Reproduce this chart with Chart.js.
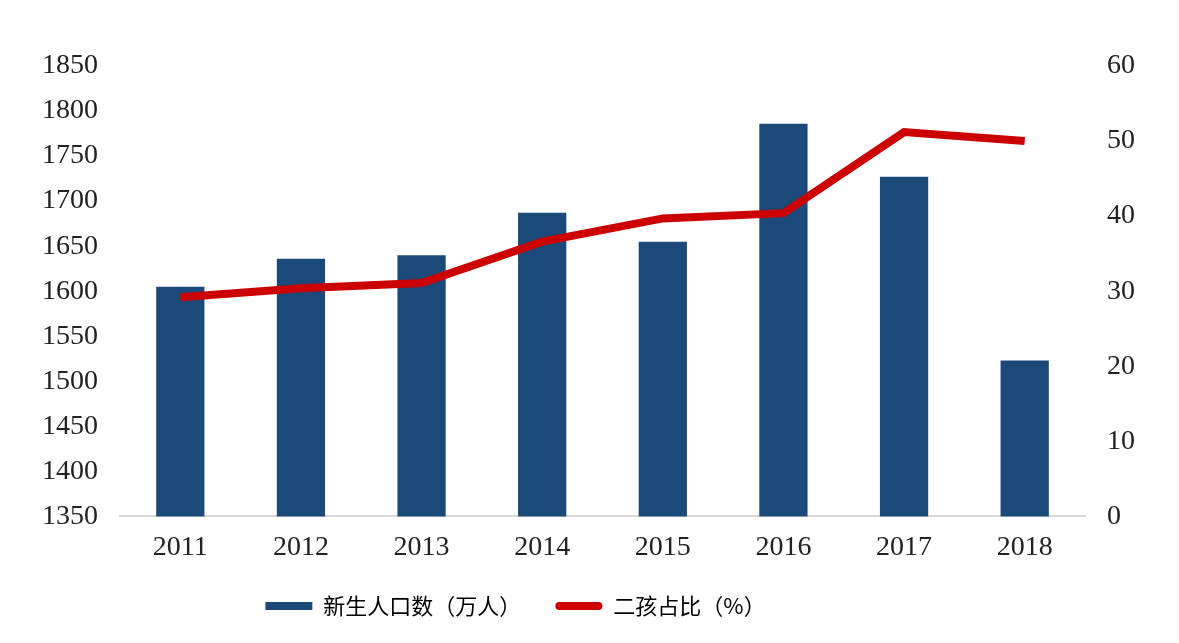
<!DOCTYPE html>
<html lang="zh">
<head>
  <meta charset="UTF-8" />
  <title>新生人口数与二孩占比</title>
  <script src="https://cdn.jsdelivr.net/npm/chart.js"></script>
  <style>
    html, body { margin: 0; padding: 0; background: #ffffff; }
    #wrap { width: 1179px; height: 643px; }
  </style>
</head>
<body>
  <div id="wrap"><canvas id="chart" width="1179" height="643"></canvas></div>
  <script>
  const years = ["2011", "2012", "2013", "2014", "2015", "2016", "2017", "2018"];
  const births = [1605, 1636, 1640, 1687, 1655, 1786, 1727, 1523];   // 新生人口数（万人）
  const secondChild = [29.2, 30.4, 31.1, 36.6, 39.7, 40.4, 51.2, 50.0]; // 二孩占比（%）

  const barColor = "#1B4A7A";
  const lineColor = "#CC0000";
  const numFont = { family: "'Liberation Serif', 'DejaVu Serif', serif", size: 28 };

  // the legend in the original sits a bit left of centre
  const legendShift = {
    id: "legendShift",
    afterLayout(chart) {
      const l = chart.legend;
      l.left -= 73; l.right -= 73;
      l.top -= 17; l.bottom -= 17;
    }
  };

  new Chart(document.getElementById("chart"), {
    data: {
      labels: years,
      datasets: [
        {
          type: "line",
          label: "二孩占比（%）",
          data: secondChild,
          yAxisID: "y2",
          borderColor: lineColor,
          borderWidth: 8,
          pointRadius: 0,
          tension: 0,
          order: 0
        },
        {
          type: "bar",
          label: "新生人口数（万人）",
          data: births,
          yAxisID: "y",
          backgroundColor: barColor,
          barPercentage: 0.4,
          categoryPercentage: 1,
          order: 1
        }
      ]
    },
    plugins: [legendShift],
    options: {
      responsive: false,
      animation: false,
      layout: { padding: { top: 66, left: 20, right: 22, bottom: -1 } },
      plugins: {
        tooltip: { enabled: false },
        legend: {
          position: "bottom",
          labels: {
            boxWidth: 47,
            boxHeight: 8,
            padding: 34,
            useBorderRadius: true,
            color: "#222",
            font: { family: "'Noto Sans CJK SC', sans-serif", size: 22 },
            generateLabels: () => [
              { text: "新生人口数（万人）", fillStyle: barColor, strokeStyle: barColor, lineWidth: 0, borderRadius: 0, datasetIndex: 1 },
              { text: "二孩占比（%）", fillStyle: lineColor, strokeStyle: lineColor, lineWidth: 0, borderRadius: 4, datasetIndex: 0 }
            ]
          }
        }
      },
      scales: {
        x: {
          grid: { display: false, drawTicks: false },
          border: { display: true, color: "#D9D9D9", width: 2 },
          ticks: { color: "#222", font: numFont, padding: 14 }
        },
        y: {
          position: "left",
          min: 1350,
          max: 1850,
          grid: { display: false, drawTicks: false },
          border: { display: false },
          ticks: { stepSize: 50, color: "#222", font: numFont, padding: 22, callback: v => String(v) }
        },
        y2: {
          position: "right",
          min: 0,
          max: 60,
          grid: { display: false, drawTicks: false },
          border: { display: false },
          ticks: { stepSize: 10, color: "#222", font: numFont, padding: 22 }
        }
      }
    }
  });
  </script>
</body>
</html>
